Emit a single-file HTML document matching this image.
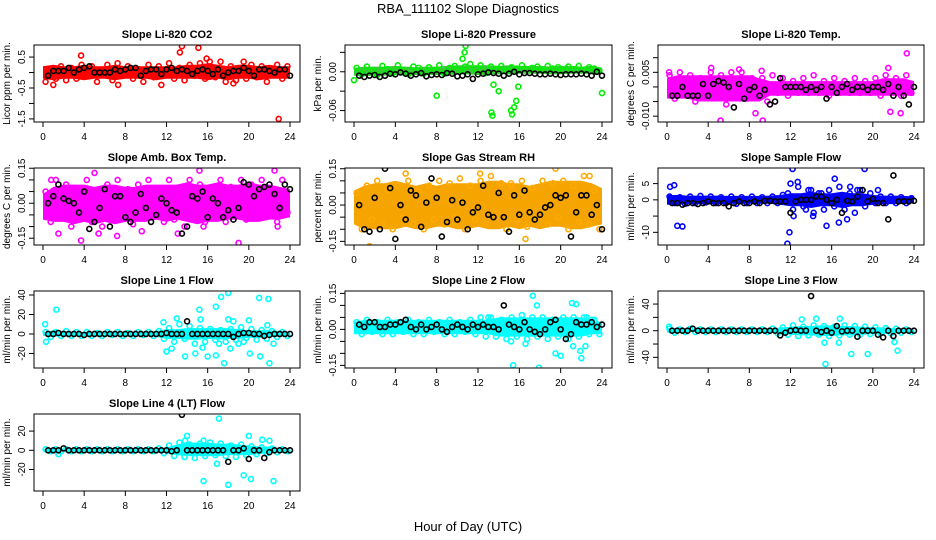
<!DOCTYPE html>
<html><head><meta charset="utf-8"><style>
body{margin:0;background:#fff;}
svg{display:block;font-family:"Liberation Sans",sans-serif;}
.t{font-weight:bold;font-size:11px;}
.k{font-size:10px;}
</style></head><body>
<svg id="c" width="936" height="540" viewBox="0 0 936 540">
<text x="468" y="13" text-anchor="middle" font-size="13">RBA_111102  Slope Diagnostics</text>
<text x="468" y="531" text-anchor="middle" font-size="13">Hour of Day (UTC)</text>
</svg>
<script>
// ---- data ----
const xTicks=[0,4,8,12,16,20,24];
const co2Black=[-0.1,0.05,0.05,0.05,0.15,0.0,0.1,0.15,0.2,0.0,0.0,0.0,0.0,0.1,0.05,0.1,0.15,0.15,-0.1,0.05,0.1,0.1,-0.05,0.1,0.15,0.05,0.1,0.05,-0.05,0.05,0.1,0.05,-0.05,0.1,-0.1,0.0,0.05,0.05,0.15,0.05,-0.1,0.1,0.1,0.05,0.0,0.1,0.1,-0.1];
const co2Pts=[-0.3,0.1,-0.2,0.2,-0.25,0.15,-0.2,0.25,-0.1,0.2,-0.3,0.1,0.25,-0.25,0.3,-0.1,0.2,-0.2,0.1,-0.3,0.25,-0.15,0.2,-0.1,0.3,-0.2,0.15,-0.25,0.25,-0.1,0.3,-0.2,0.2,-0.15,0.35,-0.3,0.2,-0.25,0.15,-0.2,0.25,-0.15,0.2,-0.3,0.1,0.25,-0.2,0.2];
const co2Lo=[-0.2,-0.25,-0.2,-0.2,-0.25,-0.2,-0.2,-0.25,-0.2,-0.2,-0.2,-0.25,-0.2,-0.2,-0.2,-0.2,-0.25,-0.2,-0.25,-0.2,-0.2,-0.25,-0.2,-0.2,-0.2];
const co2Hi=[0.2,0.25,0.2,0.2,0.25,0.2,0.2,0.25,0.2,0.2,0.2,0.2,0.2,0.2,0.25,0.25,0.3,0.25,0.2,0.25,0.25,0.2,0.25,0.2,0.2];
const co2OutX=[3.7,13.3,13.5,15.1,15.9,16.2,19.5,22.9,1.0,7.3,11.5,18.5];
const co2OutY=[0.55,0.65,0.85,0.8,0.45,0.35,0.35,-1.5,-0.4,-0.4,-0.4,-0.35];
const co2Ticks=[0.5,0,-0.5,-1,-1.5];
const co2Labels=["0.5","","-0.5","","-1.5"];

const prBlack=[-0.006,-0.008,-0.006,-0.005,-0.008,-0.006,-0.003,-0.004,-0.001,-0.003,-0.006,-0.004,-0.002,-0.007,-0.005,-0.004,-0.005,-0.002,-0.003,-0.007,-0.006,-0.004,-0.011,-0.004,-0.003,-0.001,-0.002,-0.003,-0.006,-0.003,0.0,-0.004,-0.002,-0.002,-0.003,-0.004,-0.004,-0.003,-0.004,-0.005,-0.004,-0.004,-0.004,-0.003,-0.004,-0.006,0.0,-0.006];
const prPts=[0.006,-0.004,0.008,0.002,-0.005,0.009,0.004,-0.002,0.010,0.003,-0.004,0.008,0.006,-0.003,0.007,0.002,0.010,-0.003,0.006,0.009,0.002,0.008,0.012,0.005,0.010,-0.002,0.008,0.004,0.009,0.002,0.007,0.005,0.010,0.004,0.006,0.008,0.003,0.009,0.005,0.007,0.002,0.008,0.004,0.009,0.003,0.007,0.005,0.002];
const prLo=[-0.006,-0.007,-0.006,-0.006,-0.005,-0.006,-0.005,-0.005,-0.005,-0.005,-0.004,-0.004,-0.005,-0.004,-0.004,-0.004,-0.003,-0.003,-0.003,-0.004,-0.004,-0.003,-0.003,-0.004,-0.003];
const prHi=[0.006,0.008,0.008,0.008,0.009,0.008,0.007,0.008,0.008,0.009,0.010,0.010,0.010,0.010,0.009,0.010,0.009,0.009,0.009,0.008,0.009,0.009,0.008,0.009,0.006];
const prOutX=[0,8,10.5,10.7,10.8,13.3,13.4,13.5,14,15.2,15.3,15.5,15.7,15.9,24];
const prOutY=[-0.013,-0.037,0.02,0.03,0.04,-0.063,-0.068,-0.02,-0.03,-0.06,-0.066,-0.055,-0.045,-0.023,-0.033];
const prTicks=[0.03,0,-0.03,-0.06];
const prLabels=["","0.00","","-0.06"];

const tpBlack=[-0.003,-0.003,0.0,-0.003,-0.003,-0.003,0.001,-0.003,0.001,0.002,0.0015,0.0,-0.007,0.001,-0.004,-0.001,0.0,-0.003,-0.001,-0.006,-0.005,0.003,0.0,0.0,0.0,0.0,-0.001,0.0,-0.001,0.0,-0.004,0.0,-0.002,0.0,0.001,-0.001,0.0,0.0,-0.001,0.0,0.0,-0.001,0.001,-0.003,0.0,-0.003,-0.006,0.0];
const tpPts=[0.004,-0.004,0.005,-0.002,0.004,-0.005,0.003,-0.003,0.005,-0.001,0.004,-0.006,0.005,-0.002,0.005,-0.004,0.003,-0.003,0.003,-0.005,0.004,-0.002,0.003,-0.003,0.002,-0.002,0.003,-0.002,0.004,-0.002,0.002,-0.003,0.003,-0.002,0.002,-0.002,0.003,-0.002,0.002,-0.002,0.003,-0.003,0.004,-0.002,0.003,-0.003,0.004,-0.002];
const tpLo=[-0.004,-0.004,-0.004,-0.005,-0.005,-0.005,-0.005,-0.005,-0.005,-0.005,-0.003,-0.003,-0.003,-0.003,-0.003,-0.003,-0.003,-0.003,-0.003,-0.003,-0.003,-0.003,-0.003,-0.003,-0.003];
const tpHi=[0.003,0.004,0.004,0.004,0.004,0.004,0.004,0.004,0.004,0.003,0.002,0.002,0.002,0.002,0.002,0.002,0.002,0.002,0.002,0.002,0.002,0.003,0.003,0.003,0.002];
const tpOutX=[4.3,7,9.2,5.2,9.3,8.6,21.5,23.3,21.7,22.7,0.2];
const tpOutY=[0.0065,0.006,0.0055,-0.0115,-0.0115,-0.009,0.0065,0.0115,-0.0085,-0.009,0.005];
const tpTicks=[0.01,0.005,0,-0.005,-0.01];
const tpLabels=["","0.005","","","-0.010"];

const abBlack=[0.0,0.03,0.08,0.02,0.01,0.0,-0.04,0.05,-0.11,-0.08,-0.02,0.06,-0.1,0.03,0.03,-0.06,-0.08,-0.04,0.04,-0.02,-0.08,-0.05,0.02,0.0,-0.03,-0.04,-0.13,-0.1,0.03,0.02,0.05,-0.06,0.02,0.0,-0.06,-0.03,-0.07,-0.02,0.09,0.08,0.03,0.06,0.07,0.08,0.04,-0.02,0.08,0.06];
const abPts=[0.05,-0.08,0.1,-0.06,0.08,-0.1,0.06,-0.05,0.1,-0.08,0.04,-0.1,0.08,-0.06,0.1,-0.04,0.06,-0.09,0.08,-0.06,0.1,-0.05,0.05,-0.08,0.1,-0.07,0.06,-0.1,0.1,-0.05,0.08,-0.08,0.06,-0.06,0.1,-0.08,0.07,-0.05,0.1,-0.07,0.08,-0.06,0.1,-0.05,0.06,-0.08,0.1,-0.04];
const abLo=[-0.07,-0.08,-0.08,-0.09,-0.08,-0.09,-0.08,-0.09,-0.08,-0.08,-0.08,-0.07,-0.08,-0.07,-0.08,-0.09,-0.08,-0.08,-0.07,-0.07,-0.08,-0.08,-0.07,-0.07,-0.06];
const abHi=[0.04,0.07,0.08,0.08,0.08,0.07,0.08,0.08,0.07,0.07,0.08,0.08,0.08,0.08,0.09,0.08,0.08,0.09,0.08,0.08,0.09,0.08,0.08,0.07,0.06];
const abOutX=[3.7,5,5.4,7.2,9.6,15.2,15.6,13.1,19,22.5,22.8,1.5,0.8];
const abOutY=[-0.16,0.13,-0.13,-0.14,-0.12,0.14,-0.1,-0.13,-0.17,0.14,-0.1,-0.13,0.1];
const abTicks=[0.15,0.1,0.05,0,-0.05,-0.1,-0.15];
const abLabels=["0.15","","","0.00","","","-0.15"];

const rhBlack=[0.0,-0.1,-0.11,0.03,-0.1,0.15,0.07,-0.14,0.0,-0.06,0.06,0.04,-0.09,0.01,0.11,0.03,-0.13,-0.07,0.02,-0.06,0.01,-0.1,-0.03,-0.01,0.08,-0.04,-0.05,0.05,-0.05,-0.11,0.04,-0.04,0.06,-0.03,-0.06,-0.04,-0.01,0.0,0.04,0.03,0.04,-0.13,-0.03,0.04,0.04,-0.04,0.0,-0.1];
const rhPts=[0.05,-0.1,0.08,-0.06,0.1,-0.08,0.06,-0.1,0.08,-0.05,0.1,-0.08,0.06,-0.1,0.08,-0.06,0.1,-0.08,0.09,-0.05,0.11,-0.1,0.08,-0.06,0.1,-0.08,0.12,-0.05,0.09,-0.1,0.08,-0.06,0.1,-0.09,0.07,-0.06,0.1,-0.08,0.09,-0.05,0.1,-0.1,0.08,-0.07,0.12,-0.08,0.06,-0.1];
const rhLo=[-0.08,-0.1,-0.1,-0.1,-0.1,-0.09,-0.1,-0.1,-0.09,-0.09,-0.1,-0.1,-0.09,-0.1,-0.1,-0.09,-0.1,-0.09,-0.1,-0.09,-0.09,-0.1,-0.1,-0.09,-0.08];
const rhHi=[0.06,0.08,0.09,0.09,0.1,0.09,0.08,0.09,0.08,0.09,0.09,0.09,0.09,0.1,0.1,0.09,0.09,0.08,0.09,0.1,0.1,0.1,0.1,0.09,0.07];
const rhOutX=[1.5,5,16.6,19.5,12.2,15.2,22.8];
const rhOutY=[-0.17,0.13,-0.14,0.15,0.13,0.09,0.12];
const rhTicks=[0.15,0.1,0.05,0,-0.05,-0.1,-0.15];
const rhLabels=["0.15","","","0.00","","","-0.15"];

const sfBlack=[-1,-1,-1.5,-1,-1,-1.3,-1,-0.5,-1,-1,-1,-2,-1,-0.5,-1,-1,-0.5,-1,-0.3,-0.3,-0.5,-0.5,-0.5,-4,-0.5,0,0,0,1,1,0,-1,0,-4,-0.3,-0.5,1,3,-0.5,0.3,-1,-1,-6,7.5,-0.5,-0.5,-0.5,-0.3];
const sfPts=[1,-1,0.8,-1.2,1,-1,1.2,-0.8,1,-1,0.8,-1,1,-1.2,0.8,-1,1,-1,0.8,-1,1,-1,1.5,2,-3,4,-2,3,-4,2,-3,3,-2,4,-3,2,-4,3,-2,2,-1,1,-1,1,-1,0.8,-1,0.5];
const sfLo=[-1.5,-1.5,-1.3,-1.3,-1.3,-1.3,-1.2,-1.2,-1.2,-1.2,-1.2,-1.5,-2,-2,-2.5,-2,-2,-2.5,-2,-2,-1.5,-1.3,-1.3,-1.2,-1];
const sfHi=[1.5,1.5,1.3,1.3,1.3,1.3,1.2,1.2,1.2,1.2,1.3,1.5,2,2,2.5,2,2,2.5,2,2,1.5,1.3,1.3,1.2,1];
const sfOutX=[1,1.5,11.7,11.9,12.2,19.2,12,12.7,14.2,15.5,16.7,17.5,12.3,17.8,18.5,16.3,14,15,13.5,0.3,0.7,20.5];
const sfOutY=[-8,-8.2,-13.5,-10,9.5,9.5,5,5.5,-5,-8,-7,-6,-5,4,3,6.5,3,2,-3,4,4.5,3];
const sfTicks=[5,0,-5,-10];
const sfLabels=["5","0","","-10"];

const l1Black=[0,0,1,0,0,0,0,-1,0,0,0,0,0,0,0,0,0,0,0,0,0,0,0,1,0,0,0,13,0,0,0,0,0,0,0,0,-3,0,1,1,0,0,-2,-1,0,0,0,0];
const l1Pts=[2,-3,2,-2,3,-2,2,-2,2,-2,1,-2,2,-1,2,-2,1,-2,2,-1,2,-2,3,-5,6,-8,10,-5,8,-10,6,-8,5,-6,4,-8,5,-6,7,-4,5,-6,4,-5,3,-3,2,-2];
const l1Lo=[-2,-3,-2,-2,-2,-2,-2,-2,-2,-2,-2,-3,-5,-5,-6,-6,-5,-6,-5,-5,-4,-4,-3,-3,-2];
const l1Hi=[2,4,3,2,2,2,2,2,2,2,2,3,5,5,6,6,6,6,6,5,4,4,4,3,2];
const l1OutX=[1.3,0.2,0.3,11.7,12,12.5,13,13.8,14.8,15.2,15.3,15.5,16,16.8,16.8,17.3,17.6,18,18,18.2,18.5,19,20,20.1,21,21.1,21.9,22,22.4,21.8,19.5,17.1];
const l1OutY=[25,10,-8,12,-18,-15,16,-23,-20,25,15,-14,-23,28,-22,38,-30,42,15,-15,13,-10,14,-20,37,-23,36,-30,-10,9,-8,-10];
const l1Ticks=[40,20,0,-20];
const l1Labels=["40","20","0","-20"];

const l2Black=[0.02,0.01,0.03,0.03,0.01,0.01,0.02,0.02,0.03,0.04,0.01,0.0,0.02,0.0,0.01,0.02,0.0,-0.01,0.01,0.02,0.01,0.0,0.02,0.01,0.02,0.01,0.01,0.0,0.1,0.02,0.01,0.0,0.03,0.0,-0.01,-0.02,0.0,0.03,0.04,0.0,-0.04,-0.02,0.03,0.02,0.02,0.03,0.01,0.02];
const l2Pts=[0.03,-0.02,0.04,-0.01,0.03,-0.02,0.04,-0.02,0.03,-0.01,0.04,-0.02,0.03,-0.02,0.04,-0.01,0.03,-0.02,0.04,-0.02,0.03,-0.01,0.04,-0.02,0.05,-0.03,0.05,-0.03,0.04,-0.04,0.05,-0.03,0.06,-0.04,0.05,-0.03,0.05,-0.04,0.04,-0.03,0.05,-0.04,0.05,-0.03,0.05,-0.02,0.04,-0.02];
const l2Lo=[-0.02,-0.02,-0.02,-0.02,-0.02,-0.02,-0.02,-0.02,-0.02,-0.02,-0.02,-0.02,-0.02,-0.02,-0.03,-0.03,-0.03,-0.03,-0.03,-0.03,-0.03,-0.03,-0.03,-0.02,-0.02];
const l2Hi=[0.03,0.04,0.04,0.04,0.04,0.04,0.04,0.04,0.04,0.04,0.04,0.04,0.04,0.04,0.05,0.05,0.05,0.05,0.05,0.05,0.05,0.05,0.05,0.04,0.03];
const l2OutX=[15.4,17.3,17.7,17.9,21.1,21.5,19.5,20,21.2,21.9,22,22.4,15.2,16.6,13,22.5,23];
const l2OutY=[-0.15,0.14,0.1,-0.16,0.11,0.105,-0.1,-0.11,-0.07,-0.09,-0.12,-0.07,-0.05,-0.06,0.05,0.05,0.04];
const l2Ticks=[0.15,0.1,0.05,0,-0.05,-0.1,-0.15];
const l2Labels=["0.15","","","0.00","","","-0.15"];

const l3Black=[0,0,0,0,3,0,0,0,0,0,0,0,0,0,0,0,0,0,0,0,0,-7,-3,0,1,0,0,52,0,-2,0,-3,7,-1,0,0,-9,0,0,0,-6,-10,0,-8,0,0,0,0];
const l3Pts=[3,-3,2,-2,3,-2,2,-2,2,-2,2,-2,2,-2,2,-2,2,-2,2,-2,3,-4,5,-6,8,-8,6,-7,8,-6,7,-8,6,-7,8,-6,7,-6,6,-5,5,-4,4,-4,3,-3,2,-2];
const l3Lo=[-3,-3,-2,-2,-2,-2,-2,-2,-2,-2,-3,-5,-6,-7,-7,-8,-8,-7,-7,-6,-5,-5,-4,-3,-2];
const l3Hi=[4,3,2,2,2,2,2,2,2,2,3,5,6,7,7,8,8,7,7,6,5,5,4,3,2];
const l3OutX=[15.4,17.9,19.5,22.4,22.1,13.1,14.5,16.8,15.3,16.7,0.2];
const l3OutY=[-50,-35,-35,-30,-17,17,18,18,-18,-18,6];
const l3Ticks=[40,20,0,-20,-40];
const l3Labels=["40","","0","","-40"];

const l4Black=[0,0,0,2,0,0,0,0,0,0,0,0,0,0,0,0,0,0,0,0,0,0,0,0,-1,0,37,0,0,0,0,0,0,0,0,-12,0,0,2,-9,0,0,-8,-2,0,0,0,0];
const l4Pts=[1,-1,1,-1,1,-1,1,-1,1,-1,1,-1,1,-1,1,-1,1,-1,1,-1,1,-1,2,-3,5,-6,8,-7,6,-8,7,-6,8,-5,7,-6,5,-7,6,-5,4,-4,3,-3,2,-2,1,-1];
const l4Lo=[-1,-2,-1,-1,-1,-1,-1,-1,-1,-1,-1,-2,-3,-5,-6,-6,-6,-6,-5,-5,-5,-4,-3,-2,-1];
const l4Hi=[1,2,1,1,1,1,1,1,1,1,1,2,3,6,8,8,8,7,7,6,5,4,4,2,1];
const l4OutX=[17.1,15.6,18,20.2,22.4,16.9,19.5,20,21.3,22,13.8,14,15.6,1.5];
const l4OutY=[33,-32,-36,-30,-32,-14,-26,15,11,10,10,15,10,-4];
const l4Ticks=[20,0,-20];
const l4Labels=["20","0","-20"];

// ---- layout ----
const NS="http://www.w3.org/2000/svg";
const svg=document.getElementById('c');
const cols=[[34,300],[345,612],[658,924]];
const rows=[[45,122],[168,245],[291,368],[414,491]];
function mk(tag,attrs,parent){const e=document.createElementNS(NS,tag);for(const k in attrs)e.setAttribute(k,attrs[k]);(parent||svg).appendChild(e);return e;}

function panel(id,title,ytitle,col,row,top,bot,ticks,labels,black,pts,lo,hi,ox,oy,color,fill){
  const [L,R]=cols[col],[T,B]=rows[row];
  const g=mk('g',{});
  
  
  const xs=h=>L+9+h*(R-L-19)/24;
  const ys=v=>T+(top-v)/(top-bot)*(B-T);
  const clip=mk('clipPath',{id:'cp'+id},g);mk('rect',{x:L,y:T,width:R-L,height:B-T},clip);
  const pg=mk('g',{'clip-path':'url(#cp'+id+')'},g);
  let d='';
  lo.forEach((v,i)=>{d+=(i?'L':'M')+xs(i).toFixed(1)+','+ys(hi[i]).toFixed(1);});
  for(let i=lo.length-1;i>=0;i--)d+='L'+xs(i).toFixed(1)+','+ys(lo[i]).toFixed(1);
  const band=mk('path',{d:d+'Z',fill:fill},pg);
  
  
  pts.forEach((v,i)=>{const c=mk('circle',{cx:xs(i*0.5+0.25),cy:ys(v),r:2.5,fill:'none',stroke:color,'stroke-width':1.6},pg);
    
    });
  ox.forEach((x,i)=>{const c=mk('circle',{cx:xs(x),cy:ys(oy[i]),r:2.5,fill:'none',stroke:color,'stroke-width':1.6},pg);
    
    });
  black.forEach((v,i)=>{const c=mk('circle',{cx:xs((i+1)*0.5),cy:ys(v),r:2.5,fill:'none',stroke:'#000','stroke-width':1.6},pg);
    
    });
  const box=mk('rect',{x:L,y:T,width:R-L,height:B-T,fill:'none',stroke:'#000','stroke-width':1},g);
  
  
  const tt=mk('text',{x:(L+R)/2,y:T-7,'text-anchor':'middle',class:'t'},g);tt.textContent=title;
  
  
  mk('line',{x1:xs(0),x2:xs(24),y1:B,y2:B,stroke:'#000'},g);
  xTicks.forEach(t=>{mk('line',{x1:xs(t),x2:xs(t),y1:B,y2:B+5,stroke:'#000'},g);
    const lb=mk('text',{x:xs(t),y:B+18,'text-anchor':'middle',class:'k'},g);lb.textContent=t;
    
    });
  ticks.forEach((t,i)=>{const y=ys(t);mk('line',{x1:L-5,x2:L,y1:y,y2:y,stroke:'#000'},g);
    if(labels[i]){const lb=mk('text',{x:L-9,y:y,'text-anchor':'middle',class:'k',transform:'rotate(-90 '+(L-9)+' '+y+')'},g);lb.textContent=labels[i];
      
      }});
  mk('line',{x1:L,x2:L,y1:ys(ticks[0]),y2:ys(ticks[ticks.length-1]),stroke:'#000'},g);
  const yt=mk('text',{x:L-24,y:(T+B)/2,'text-anchor':'middle',class:'k',transform:'rotate(-90 '+(L-24)+' '+(T+B)/2+')'},g);yt.textContent=ytitle;
  
  
}
panel('co2','Slope Li-820 CO2','Licor ppm per min.',0,0,0.89,-1.6,co2Ticks,co2Labels,co2Black,co2Pts,co2Lo,co2Hi,co2OutX,co2OutY,'#ff0000','#ff0000');
panel('pressure','Slope Li-820 Pressure','kPa per min.',1,0,0.0414,-0.0777,prTicks,prLabels,prBlack,prPts,prLo,prHi,prOutX,prOutY,'#00ee00','#33cc33');
panel('li-temp','Slope Li-820 Temp.','degrees C per min.',2,0,0.01435,-0.012,tpTicks,tpLabels,tpBlack,tpPts,tpLo,tpHi,tpOutX,tpOutY,'#ff00ff','#ff00ff');
panel('amb-temp','Slope Amb. Box Temp.','degrees C per min.',0,1,0.151,-0.179,abTicks,abLabels,abBlack,abPts,abLo,abHi,abOutX,abOutY,'#ff00ff','#ff00ff');
panel('rh','Slope Gas Stream RH','percent per min.',1,1,0.153,-0.165,rhTicks,rhLabels,rhBlack,rhPts,rhLo,rhHi,rhOutX,rhOutY,'#ffaa00','#f5a400');
panel('sample-flow','Slope Sample Flow','ml/min per min.',2,1,9.8,-13.9,sfTicks,sfLabels,sfBlack,sfPts,sfLo,sfHi,sfOutX,sfOutY,'#0000ff','#0000ff');
panel('line1','Slope Line 1 Flow','ml/min per min.',0,2,44.1,-34.9,l1Ticks,l1Labels,l1Black,l1Pts,l1Lo,l1Hi,l1OutX,l1OutY,'#00ffff','#00ffff');
panel('line2','Slope Line 2 Flow','ml/min per min.',1,2,0.16,-0.161,l2Ticks,l2Labels,l2Black,l2Pts,l2Lo,l2Hi,l2OutX,l2OutY,'#00ffff','#00ffff');
panel('line3','Slope Line 3 Flow','ml/min per min.',2,2,59.6,-56,l3Ticks,l3Labels,l3Black,l3Pts,l3Lo,l3Hi,l3OutX,l3OutY,'#00ffff','#00ffff');
panel('line4','Slope Line 4 (LT) Flow','ml/min per min.',0,3,37.8,-42.4,l4Ticks,l4Labels,l4Black,l4Pts,l4Lo,l4Hi,l4OutX,l4OutY,'#00ffff','#00ffff');
</script>
</body></html>
